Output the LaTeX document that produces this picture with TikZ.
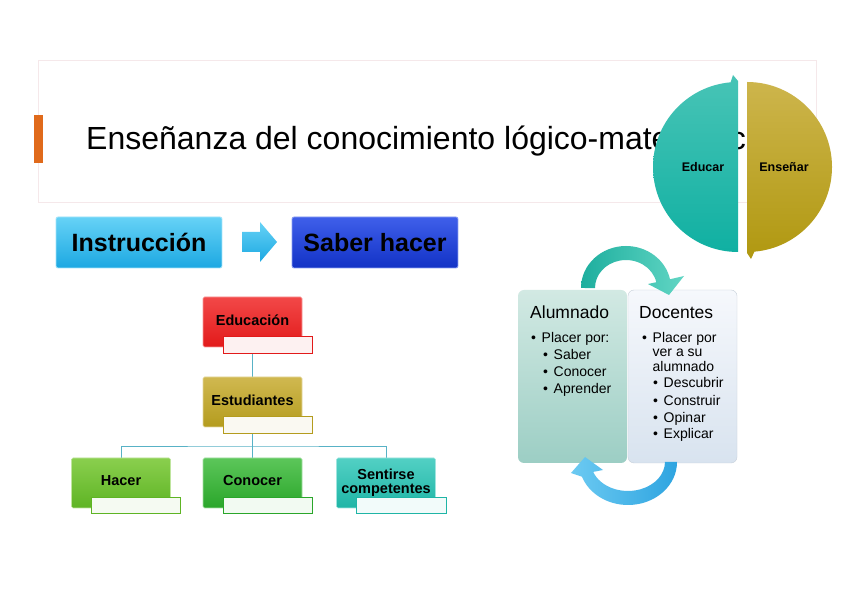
\documentclass[tikz,border=0pt]{standalone}
\usepackage{fontspec}
\setmainfont{Liberation Sans}
\usetikzlibrary{calc,backgrounds}
\definecolor{pinkline}{HTML}{F5E8EA}
\definecolor{orangebar}{HTML}{E06A1B}
\definecolor{tealA}{HTML}{48C4B6}
\definecolor{tealB}{HTML}{10B0A2}
\definecolor{oliveA}{HTML}{CDB54C}
\definecolor{oliveB}{HTML}{B09810}
\definecolor{cyanA}{HTML}{66D2F6}
\definecolor{cyanB}{HTML}{1CA8E2}
\definecolor{blueA}{HTML}{3F5FEA}
\definecolor{blueB}{HTML}{1232C6}
\definecolor{redA}{HTML}{F24848}
\definecolor{redB}{HTML}{E21A1A}
\definecolor{goldA}{HTML}{D0B850}
\definecolor{goldB}{HTML}{B49C1E}
\definecolor{greenA}{HTML}{8ACF4E}
\definecolor{greenB}{HTML}{5EB424}
\definecolor{grnA}{HTML}{5CC65A}
\definecolor{grnB}{HTML}{2AA62A}
\definecolor{tqA}{HTML}{52D0C4}
\definecolor{tqB}{HTML}{1FB5A6}
\definecolor{linecol}{HTML}{58B2C6}
\definecolor{alumA}{HTML}{D2E9E3}
\definecolor{alumB}{HTML}{9CCEC4}
\definecolor{docA}{HTML}{F6F8FC}
\definecolor{docB}{HTML}{D8E3EF}
\definecolor{arrTA}{HTML}{62D6C4}
\definecolor{arrTB}{HTML}{1DAE9E}
\definecolor{arrBA}{HTML}{2EA4E0}
\definecolor{arrBB}{HTML}{6CCAF2}
\newcommand\blt[1]{\makebox[10.5pt][l]{•}#1}
\tikzset{
  bigbox/.style 2 args={rounded corners=2pt, draw=#1!60!white, line width=0.8pt,
    top color=#1, bottom color=#2, minimum width=166pt, minimum height=51pt,
    inner sep=0pt, font=\bfseries\fontsize{25}{30}\selectfont},
  orgbox/.style 2 args={rounded corners=1.5pt, draw=#1!55!white, line width=0.6pt,
    top color=#1, bottom color=#2, minimum width=99pt, minimum height=50pt,
    inner sep=0pt, align=center, font=\bfseries\fontsize{14.5}{14}\selectfont},
  subbox/.style={draw=#1, line width=0.7pt, fill=#1!6!white, minimum width=89pt,
    minimum height=17pt, inner sep=0pt},
  conn/.style={draw=linecol, line width=0.8pt},
  cycbox/.style 2 args={rounded corners=6pt, top color=#1, bottom color=#2,
    minimum width=109pt, minimum height=173pt, inner sep=0pt},
  cyctitle/.style={anchor=base west, inner sep=0pt, font=\fontsize{17.5}{20}\selectfont},
  cycline/.style={anchor=base west, inner sep=0pt, font=\fontsize{14}{16}\selectfont},
  circlab/.style={inner sep=0pt, font=\bfseries\fontsize{12.5}{14}\selectfont},
}
\begin{document}
\begin{tikzpicture}[x=1pt,y=1pt]
\useasboundingbox (0,0) rectangle (848,599);
\begin{scope}[on background layer]
\fill[white] (0,0) rectangle (848,599);
\end{scope}
% title area
\node[draw=pinkline, line width=0.8pt, minimum width=778pt, minimum height=142pt, inner sep=0pt] (titlebox) at (427,468) {};
\fill[orangebar] (34,436) rectangle (43,484);
\node[anchor=base west, inner sep=0pt, font=\fontsize{32}{36}\selectfont] (title) at (86,449) {Enseñanza del conocimiento lógico-matemático};
% split circle
\path[top color=tealA, bottom color=tealB] (738,347) arc[start angle=270, end angle=95, radius=85] -- (733,524) -- (738,518) -- cycle;
\path[top color=oliveA, bottom color=oliveB] (747,517) arc[start angle=90, end angle=-85, radius=85] -- (751,340) -- (747,346) -- cycle;
\node[circlab] (educar) at (703,432) {Educar};
\node[circlab] (ensenar) at (784,432) {Enseñar};
% instruction row
\node[bigbox={cyanA}{cyanB}] (instr) at (139,356.5) {Instrucción};
\node[bigbox={blueA}{blueB}] (saber) at (375,356.5) {Saber hacer};
\path[top color=cyanA, bottom color=cyanB] (242,367) -- (260,367) -- (260,377) -- (277,357) -- (260,337) -- (260,347) -- (242,347) -- cycle;
% org chart
\node[orgbox={redA}{redB}] (edu) at (252.5,277) {\raisebox{4pt}{Educación}};
\node[orgbox={goldA}{goldB}] (est) at (252.5,197) {\raisebox{4pt}{Estudiantes}};
\node[orgbox={greenA}{greenB}] (hac) at (121,116) {\raisebox{5pt}{Hacer}};
\node[orgbox={grnA}{grnB}] (con) at (252.5,116) {\raisebox{5pt}{Conocer}};
\node[orgbox={tqA}{tqB}] (sen) at (386,116) {\raisebox{5pt}{\begin{tabular}{@{}c@{}}Sentirse\\competentes\end{tabular}}};
\node[subbox=redB] (edusub) at (268,254.5) {};
\node[subbox=goldB] (estsub) at (268,174.5) {};
\node[subbox=greenB, minimum height=16pt] (hacsub) at (135.5,94) {};
\node[subbox=grnB, minimum height=16pt] (consub) at (268,94) {};
\node[subbox=tqB, minimum height=16pt, minimum width=90pt] (sensub) at (401,94) {};
\coordinate (hub) at (252.5,153);
\begin{scope}[on background layer]
\draw[conn] (edu.south) -- (est.north);
\draw[conn] (est.south) -- (hub);
\draw[conn] (hub) -- (con.north);
\draw[conn] (hac.north) |- (hub) -| (sen.north);
\end{scope}
% cycle
\node[cycbox={alumA}{alumB}] (alum) at (572.5,222.5) {};
\node[cycbox={docA}{docB}, draw=docB!80!gray, line width=0.4pt] (doc) at (682.5,222.5) {};
\path[left color=arrTB, right color=arrTA] (581,311) arc[start angle=180, end angle=12, x radius=45, y radius=42] -- (684,323) -- (669,304) -- (648,315) -- (656.3,316.8) arc[start angle=12, end angle=180, x radius=31, y radius=28] -- cycle;
\path[left color=arrBB, right color=arrBA] (677,137) arc[start angle=0, end angle=-160, x radius=49, y radius=43] -- (571,126) -- (585,142) -- (603,129) -- (593.2,127.1) arc[start angle=-160, end angle=0, x radius=37, y radius=29] -- cycle;
\node[cyctitle] (alumt) at (530,280) {Alumnado};
\node[cyctitle] (doct) at (639,280) {Docentes};
\node[cycline] (a1) at (531,256) {\blt{Placer por:}};
\node[cycline] (a2) at (543,239) {\blt{Saber}};
\node[cycline] (a3) at (543,222) {\blt{Conocer}};
\node[cycline] (a4) at (543,205) {\blt{Aprender}};
\node[cycline] (d1) at (642,256) {\blt{Placer por}};
\node[cycline] (d2) at (652.5,242) {ver a su};
\node[cycline] (d3) at (652.5,227) {alumnado};
\node[cycline] (d4) at (653,211) {\blt{Descubrir}};
\node[cycline] (d5) at (653,193.5) {\blt{Construir}};
\node[cycline] (d6) at (653,176.5) {\blt{Opinar}};
\node[cycline] (d7) at (653,160) {\blt{Explicar}};
\end{tikzpicture}
\end{document}
